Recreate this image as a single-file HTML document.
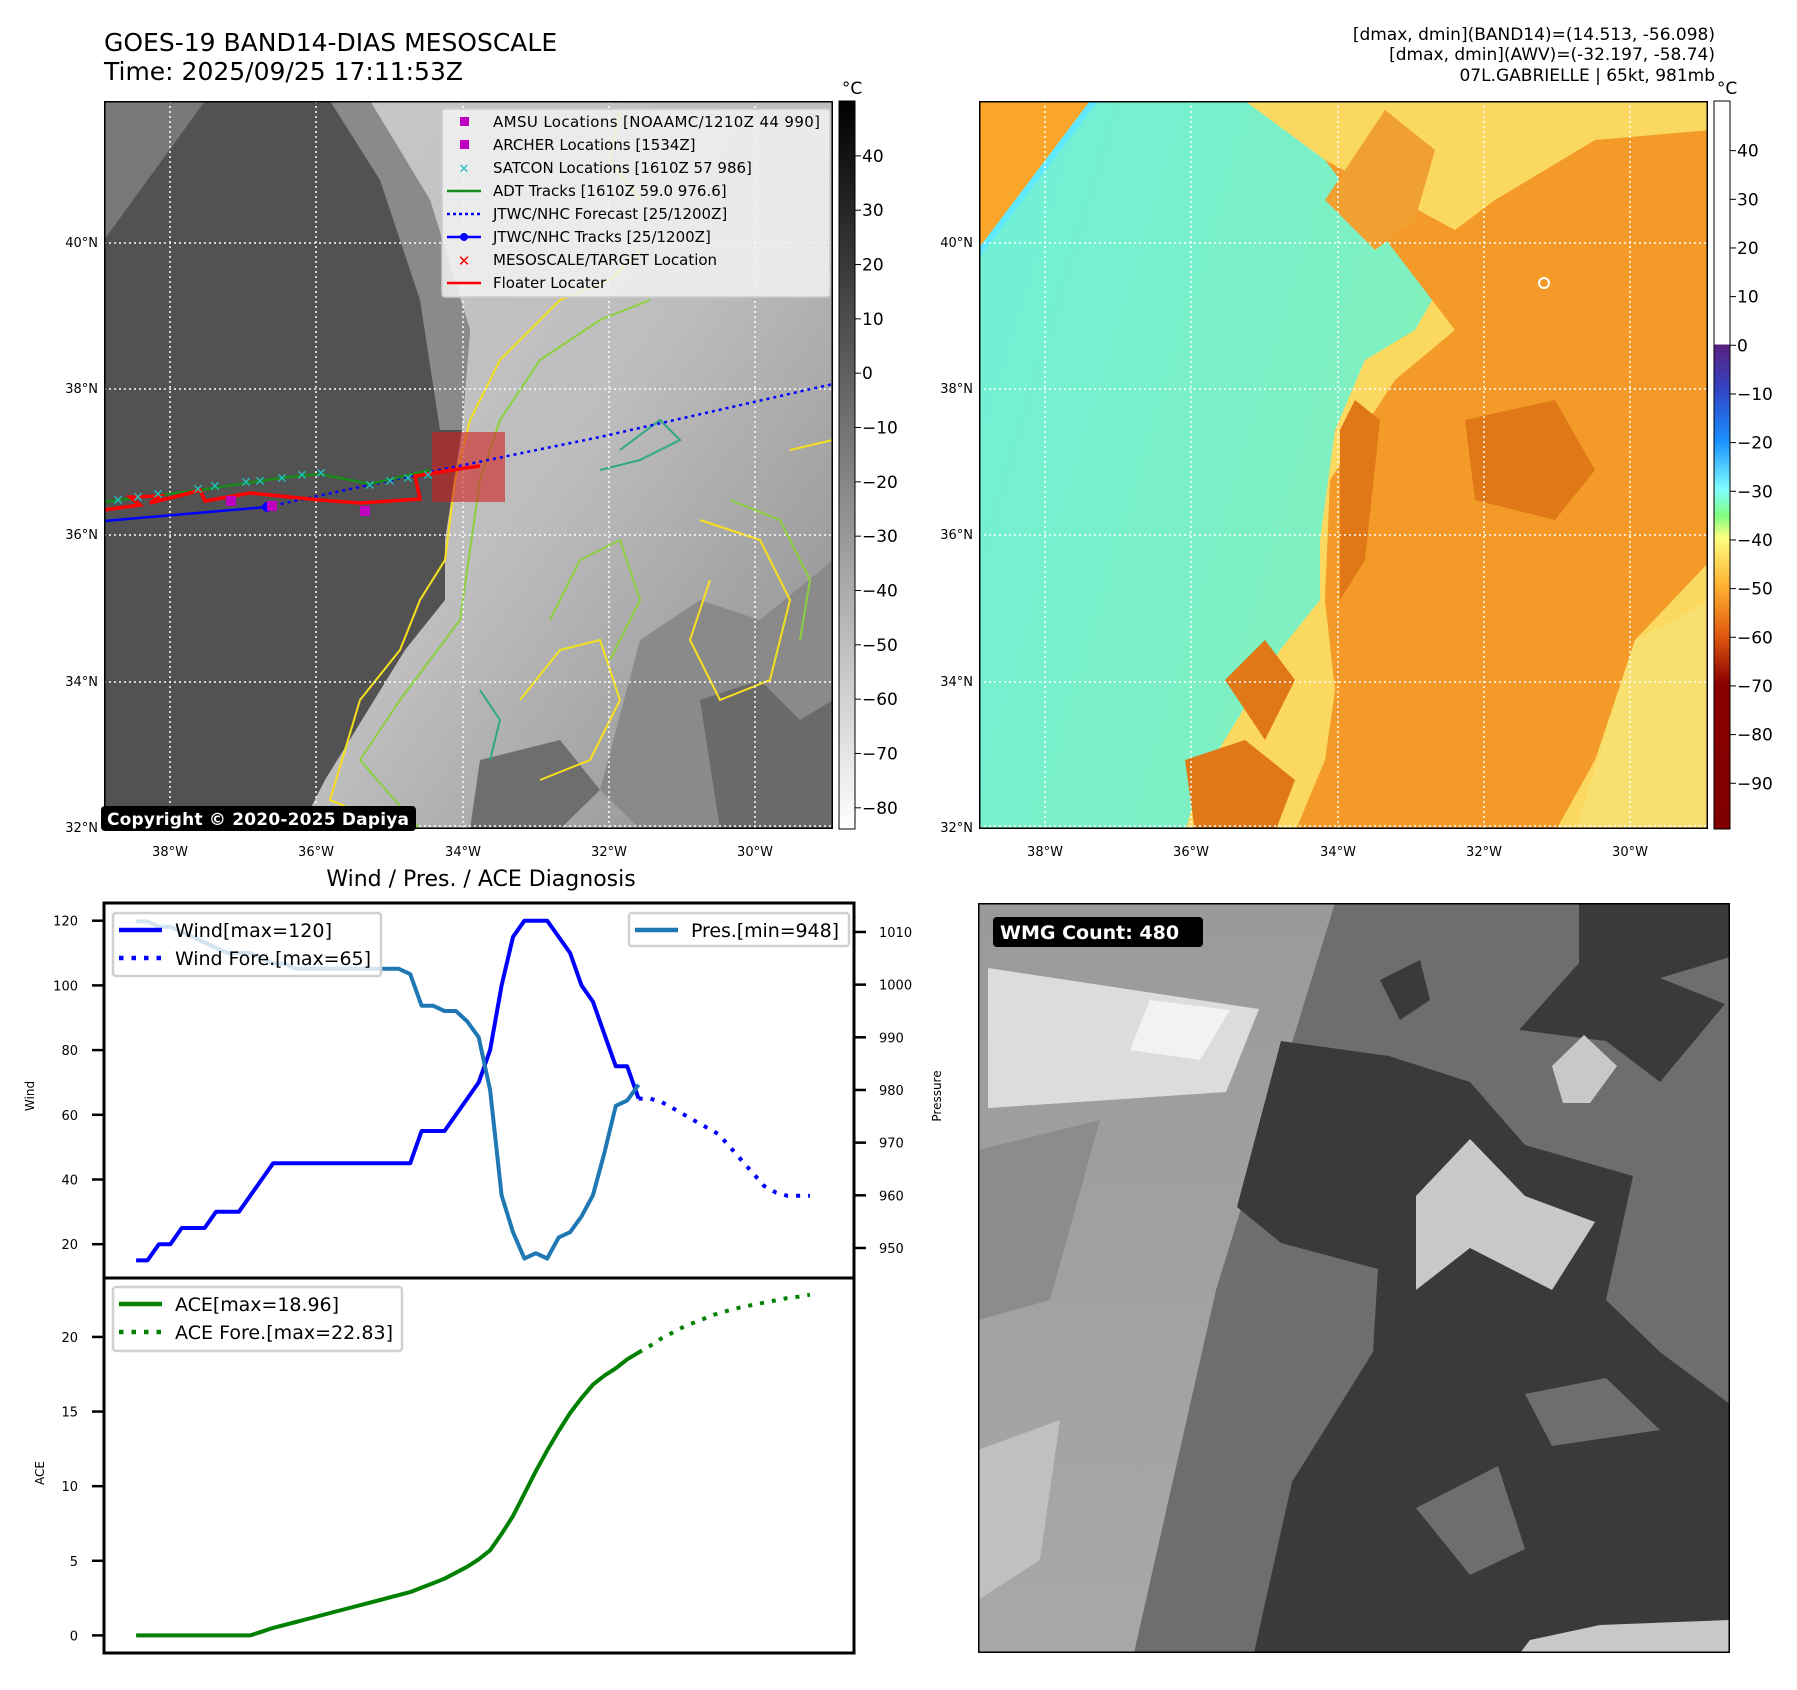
<!DOCTYPE html>
<html><head><meta charset="utf-8"><style>
html,body{margin:0;padding:0;background:#fff;}
svg{display:block;font-family:"DejaVu Sans","Liberation Sans",sans-serif;}
</style></head><body>
<svg id="root" width="1797" height="1690" viewBox="0 0 1797 1690" xmlns="http://www.w3.org/2000/svg">
<defs>
<linearGradient id="cb1" x1="0" y1="0" x2="0" y2="1"><stop offset="0" stop-color="#000"/><stop offset="1" stop-color="#fff"/></linearGradient>
<linearGradient id="cb2" x1="0" y1="0" x2="0" y2="1">
<stop offset="0" stop-color="#fff"/><stop offset="0.334" stop-color="#fff"/><stop offset="0.335" stop-color="#5a1f80"/>
<stop offset="0.40" stop-color="#3048c8"/><stop offset="0.467" stop-color="#1a90ff"/><stop offset="0.534" stop-color="#80ffff"/>
<stop offset="0.57" stop-color="#80ff80"/><stop offset="0.60" stop-color="#ffff80"/><stop offset="0.667" stop-color="#ffb030"/>
<stop offset="0.734" stop-color="#e05a10"/><stop offset="0.80" stop-color="#8a0000"/><stop offset="1" stop-color="#800000"/></linearGradient>
<linearGradient id="cloud1" x1="0" y1="0" x2="1" y2="1"><stop offset="0" stop-color="#c8c8c8"/><stop offset="0.5" stop-color="#bdbdbd"/><stop offset="1" stop-color="#8a8a8a"/></linearGradient>
<linearGradient id="clr2" x1="0" y1="0" x2="1" y2="0.3"><stop offset="0" stop-color="#70f0d8"/><stop offset="0.6" stop-color="#7ff0c0"/><stop offset="1" stop-color="#88f890"/></linearGradient>
<linearGradient id="band" x1="0" y1="0" x2="0" y2="1"><stop offset="0" stop-color="#9a9a9a"/><stop offset="1" stop-color="#a8a8a8"/></linearGradient>
<clipPath id="c1"><rect x="104" y="101" width="729" height="728"/></clipPath>
<clipPath id="c2"><rect x="979" y="101" width="729" height="728"/></clipPath>
<clipPath id="c3"><rect x="978" y="903" width="752" height="750"/></clipPath>
</defs>

<text x="104" y="51" font-size="25">GOES-19 BAND14-DIAS MESOSCALE</text>
<text x="104" y="80" font-size="25">Time: 2025/09/25 17:11:53Z</text>
<g font-size="17" text-anchor="end">
<text x="1715" y="40">[dmax, dmin](BAND14)=(14.513, -56.098)</text>
<text x="1715" y="60">[dmax, dmin](AWV)=(-32.197, -58.74)</text>
<text x="1715" y="81">07L.GABRIELLE | 65kt, 981mb</text>
</g>

<!-- MAP 1 -->
<g clip-path="url(#c1)">
<rect x="104" y="101" width="729" height="728" fill="#525252"/>
<polygon points="104,101 205,101 104,240" fill="#787878"/>
<polygon points="370,101 833,101 833,829 300,829 325,780 405,650 445,600 445,540 462,430 470,330 430,200" fill="url(#cloud1)"/>
<polygon points="330,101 370,101 430,200 470,330 462,430 440,430 420,300 380,180" fill="#8a8a8a"/>
<polygon points="640,640 700,600 760,620 833,560 833,829 640,829 600,790" fill="#8a8a8a"/>
<polygon points="700,700 760,680 800,720 833,700 833,829 720,829" fill="#6a6a6a"/>
<polygon points="480,760 560,740 600,790 560,829 470,829" fill="#6e6e6e"/>
<g fill="none" stroke-width="2">
<polyline stroke="#f5e020" points="400,829 330,800 360,700 400,650 420,600 445,560 455,480 470,420 500,360 560,300 610,280 640,250"/>
<polyline stroke="#f5e020" points="700,520 760,540 790,600 770,680 720,700 690,640 710,580"/>
<polyline stroke="#f5e020" points="520,700 560,650 600,640 620,700 590,760 540,780"/>
<polyline stroke="#f5e020" points="790,450 833,440"/>
<polyline stroke="#f5e020" points="620,110 610,160 640,200"/>
<polyline stroke="#8ad040" points="420,829 360,760 400,700 430,660 460,620 470,550 480,480 500,420 540,360 600,320 650,300"/>
<polyline stroke="#8ad040" points="550,620 580,560 620,540 640,600 610,660"/>
<polyline stroke="#8ad040" points="730,500 780,520 810,580 800,640"/>
<polyline stroke="#30a880" points="600,470 640,460 680,440 660,420 620,450"/>
<polyline stroke="#30a880" points="490,760 500,720 480,690"/>
</g>
<g stroke="#fff" stroke-width="1.5" stroke-dasharray="2,3">
<line x1="170" y1="101" x2="170" y2="829"/><line x1="316" y1="101" x2="316" y2="829"/><line x1="463" y1="101" x2="463" y2="829"/><line x1="609" y1="101" x2="609" y2="829"/><line x1="755" y1="101" x2="755" y2="829"/>
<line x1="104" y1="243" x2="833" y2="243"/><line x1="104" y1="389" x2="833" y2="389"/><line x1="104" y1="535" x2="833" y2="535"/><line x1="104" y1="682" x2="833" y2="682"/><line x1="104" y1="826" x2="833" y2="826"/>
</g>
<rect x="432" y="432" width="73" height="70" fill="#d02020" fill-opacity="0.6"/>
<polyline points="267,507 420,474 600,437 833,384" fill="none" stroke="#0000ff" stroke-width="2.5" stroke-dasharray="3,4"/>
<polyline points="104,521 267,507" fill="none" stroke="#0000ff" stroke-width="2.5"/>
<circle cx="267" cy="507" r="5" fill="#0000ff"/>
<polyline points="104,502 200,490 280,478 320,474 370,484 430,470" fill="none" stroke="#1a8a1a" stroke-width="2.5"/>
<polyline points="104,510 140,505 130,497 160,496 150,503 190,493 200,490 205,501 250,493 280,496 320,500 360,503 420,499 415,476 465,468 480,466" fill="none" stroke="#ff0000" stroke-width="3.5"/>
<g fill="#20c0c0" font-size="14" font-weight="bold" text-anchor="middle">
<text x="118" y="505">✕</text><text x="138" y="502">✕</text><text x="158" y="499">✕</text><text x="198" y="494">✕</text><text x="215" y="491">✕</text><text x="246" y="487">✕</text><text x="260" y="486">✕</text><text x="282" y="483">✕</text><text x="302" y="480">✕</text><text x="321" y="478">✕</text><text x="370" y="490">✕</text><text x="390" y="486">✕</text><text x="408" y="483">✕</text><text x="428" y="480">✕</text>
</g>
<g fill="#c000c0">
<rect x="226" y="496" width="10" height="10"/><rect x="267" y="501" width="10" height="10"/><rect x="360" y="506" width="10" height="10"/></g>
<rect x="104" y="101" width="729" height="728" fill="none" stroke="#000" stroke-width="3"/>
</g>
<g font-size="15">
<rect x="442" y="109" width="388" height="188" fill="#f2f2f2" fill-opacity="0.85" stroke="#ccc" stroke-width="1.5" rx="3"/>
<rect x="460" y="117" width="9" height="9" fill="#c000c0"/><text x="493" y="127" textLength="327">AMSU Locations [NOAAMC/1210Z 44 990]</text>
<rect x="460" y="140" width="9" height="9" fill="#c000c0"/><text x="493" y="150">ARCHER Locations [1534Z]</text>
<text x="464" y="173" fill="#20c0c0" font-weight="bold" text-anchor="middle" font-size="13">✕</text><text x="493" y="173">SATCON Locations [1610Z 57 986]</text>
<line x1="447" y1="191" x2="481" y2="191" stroke="#1a8a1a" stroke-width="2.5"/><text x="493" y="196">ADT Tracks [1610Z 59.0 976.6]</text>
<line x1="447" y1="214" x2="481" y2="214" stroke="#0000ff" stroke-width="2.5" stroke-dasharray="3,3"/><text x="493" y="219">JTWC/NHC Forecast [25/1200Z]</text>
<line x1="447" y1="237" x2="481" y2="237" stroke="#0000ff" stroke-width="2.5"/><circle cx="464" cy="237" r="4" fill="#0000ff"/><text x="493" y="242">JTWC/NHC Tracks [25/1200Z]</text>
<text x="464" y="266" fill="#ff0000" font-weight="bold" text-anchor="middle" font-size="15">✕</text><text x="493" y="265">MESOSCALE/TARGET Location</text>
<line x1="447" y1="283" x2="481" y2="283" stroke="#ff0000" stroke-width="2.5"/><text x="493" y="288">Floater Locater</text>
</g>
<g><rect x="101" y="806" width="315" height="25" rx="4" fill="#000"/>
<text x="107" y="825" fill="#fff" font-size="17" font-weight="bold" textLength="302">Copyright © 2020-2025 Dapiya</text></g>
<g font-size="13" text-anchor="end">
<text x="98" y="247">40°N</text><text x="98" y="393">38°N</text><text x="98" y="539">36°N</text><text x="98" y="686">34°N</text><text x="98" y="832">32°N</text></g>
<g font-size="13" text-anchor="middle">
<text x="170" y="856">38°W</text><text x="316" y="856">36°W</text><text x="463" y="856">34°W</text><text x="609" y="856">32°W</text><text x="755" y="856">30°W</text></g>
<g>
<rect x="839" y="101" width="16" height="728" fill="url(#cb1)" stroke="#000" stroke-width="1"/>
<text x="852" y="94" font-size="17" text-anchor="middle">°C</text>
<g font-size="17" id="cb1ticks"></g></g>

<!-- MAP 2 -->
<g clip-path="url(#c2)">
<g transform="translate(-5,0)">
<rect x="984" y="101" width="732" height="731" fill="url(#clr2)"/>
<polygon points="984,101 1095,101 984,248" fill="#f9a62a"/>
<polygon points="1095,101 1103,101 984,258 984,248" fill="#60e8ff"/>
<polygon points="1250,101 1716,101 1716,832 1190,832 1205,780 1285,650 1325,600 1325,540 1340,430 1370,360 1420,330 1460,260 1390,200 1330,160" fill="#fbd860"/>
<polygon points="1330,160 1460,230 1500,200 1600,140 1716,130 1716,560 1640,640 1600,760 1560,832 1300,832 1330,760 1340,690 1330,600 1335,480 1400,380 1460,330" fill="#f39a28"/>
<polygon points="1330,200 1380,250 1420,220 1440,150 1390,110" fill="#f0a030"/>
<polygon points="1470,420 1560,400 1600,470 1560,520 1480,500" fill="#e07818"/>
<polygon points="1345,430 1360,400 1385,420 1370,560 1345,600" fill="#e07818"/>
<polygon points="1190,760 1250,740 1300,780 1280,832 1200,832" fill="#e07818"/>
<polygon points="1230,680 1270,640 1300,680 1270,740" fill="#e07818"/>
<polygon points="1640,640 1716,600 1716,832 1580,832" fill="#f8e070"/>
<polygon points="1630,300 1716,250 1716,150 1650,170" fill="#f39a28"/>
</g>
<g stroke="#fff" stroke-width="1.5" stroke-dasharray="2,3">
<line x1="1045" y1="101" x2="1045" y2="829"/><line x1="1191" y1="101" x2="1191" y2="829"/><line x1="1338" y1="101" x2="1338" y2="829"/><line x1="1484" y1="101" x2="1484" y2="829"/><line x1="1630" y1="101" x2="1630" y2="829"/>
<line x1="979" y1="243" x2="1708" y2="243"/><line x1="979" y1="389" x2="1708" y2="389"/><line x1="979" y1="535" x2="1708" y2="535"/><line x1="979" y1="682" x2="1708" y2="682"/><line x1="979" y1="826" x2="1708" y2="826"/>
</g>
<ellipse cx="1544" cy="283" rx="5" ry="5" fill="none" stroke="#fff" stroke-width="2"/>
<rect x="979" y="101" width="729" height="728" fill="none" stroke="#000" stroke-width="3"/>
</g>
<g font-size="13" text-anchor="end">
<text x="973" y="247">40°N</text><text x="973" y="393">38°N</text><text x="973" y="539">36°N</text><text x="973" y="686">34°N</text><text x="973" y="832">32°N</text></g>
<g font-size="13" text-anchor="middle">
<text x="1045" y="856">38°W</text><text x="1191" y="856">36°W</text><text x="1338" y="856">34°W</text><text x="1484" y="856">32°W</text><text x="1630" y="856">30°W</text></g>
<g>
<rect x="1714" y="101" width="16" height="728" fill="url(#cb2)" stroke="#000" stroke-width="1"/>
<text x="1727" y="94" font-size="17" text-anchor="middle">°C</text>
<g font-size="17" id="cb2ticks"></g></g>

<!-- WMG -->
<g clip-path="url(#c3)">
<rect x="978" y="903" width="752" height="750" fill="#6e6e6e"/>
<polygon points="978,903 1335,903 1216,1290 1134,1653 978,1653" fill="url(#band)"/>
<polygon points="988,968 1259,1009 1226,1092 1064,1103 988,1108" fill="#dcdcdc"/>
<polygon points="1150,1000 1230,1010 1200,1060 1130,1050" fill="#f2f2f2"/>
<polygon points="978,1150 1100,1120 1050,1300 978,1320" fill="#8c8c8c"/>
<polygon points="978,1450 1060,1420 1040,1560 978,1600" fill="#c0c0c0"/>
<polygon points="1281,1041 1389,1056 1470,1082 1525,1145 1633,1176 1606,1300 1660,1352 1730,1404 1730,1653 1443,1659 1254,1653 1292,1482 1373,1352 1378,1269 1281,1243 1237,1207" fill="#3a3a3a"/>
<polygon points="1579,903 1730,903 1730,957 1660,978 1725,1004 1660,1082 1606,1041 1519,1030 1579,963" fill="#3a3a3a"/>
<polygon points="1380,980 1420,960 1430,1000 1400,1020" fill="#3a3a3a"/>
<polygon points="1552,1066 1584,1035 1617,1066 1590,1103 1563,1103" fill="#c8c8c8"/>
<polygon points="1416,1196 1470,1139 1525,1196 1595,1222 1552,1290 1470,1248 1416,1290" fill="#c8c8c8"/>
<polygon points="1416,1508 1498,1466 1525,1549 1470,1575" fill="#6e6e6e"/>
<polygon points="1525,1394 1606,1378 1660,1430 1552,1446" fill="#6e6e6e"/>
<polygon points="1630,1300 1730,1260 1730,1404 1660,1352" fill="#6e6e6e"/>
<polygon points="1530,1640 1600,1625 1730,1620 1730,1653 1520,1653" fill="#c8c8c8"/>
<rect x="978" y="903" width="752" height="750" fill="none" stroke="#000" stroke-width="3"/>
</g>
<g><rect x="993" y="917" width="210" height="30" rx="4" fill="#000"/>
<text x="1000" y="939" fill="#fff" font-size="19" font-weight="bold">WMG Count: 480</text></g>

<!-- CHARTS -->
<text x="481" y="886" font-size="22" text-anchor="middle">Wind / Pres. / ACE Diagnosis</text>
<g id="charts"></g>
</svg>
<script>
// --- data ---
const windObs = [15,15,20,20,25,25,25,30,30,30,35,40,45,45,45,45,45,45,45,45,45,45,45,45,45,55,55,55,60,65,70,80,100,115,120,120,120,115,110,100,95,85,75,75,65];
const windFore = [65,65,64,62,60,58,56,54,50,46,42,38,36,35,35,35];
const presObs = [1012,1012,1011,1011,1010,1009,1008,1007,1006,1006,1006,1005,1004,1004,1003,1003,1003,1003,1003,1003,1003,1003,1003,1003,1002,996,996,995,995,993,990,980,960,953,948,949,948,952,953,956,960,968,977,978,981];
const aceObs = [0,0,0,0,0,0,0,0,0,0,0,0.25,0.5,0.7,0.9,1.1,1.3,1.5,1.7,1.9,2.1,2.3,2.5,2.7,2.9,3.2,3.5,3.8,4.2,4.6,5.1,5.7,6.8,8.0,9.5,11.0,12.4,13.7,14.9,15.9,16.8,17.4,17.9,18.5,18.96];
const aceFore = [18.96,19.4,19.9,20.3,20.7,21.0,21.3,21.6,21.8,22.0,22.15,22.3,22.45,22.6,22.7,22.83];
const windTicks = [20,40,60,80,100,120];
const presTicks = [950,960,970,980,990,1000,1010];
const aceTicks = [0,5,10,15,20];
const cb1Ticks = [40,30,20,10,0,-10,-20,-30,-40,-50,-60,-70,-80];
const cb2Ticks = [40,30,20,10,0,-10,-20,-30,-40,-50,-60,-70,-80,-90];

const NS='http://www.w3.org/2000/svg';
function mk(tag, attrs, parent){const e=document.createElementNS(NS,tag);for(const k in attrs)e.setAttribute(k,attrs[k]);parent.appendChild(e);return e;}
const L=104,R=854,T1=903,B1=1278,T2=1278,B2=1653;
const xS=i=>L+(i-(-2.81))/(62.86+2.81)*(R-L);
const yW=v=>B1-(v-9.55)/(125.47-9.55)*(B1-T1);
const yP=v=>B1-(v-944.3)/(1015.5-944.3)*(B1-T1);
const yA=v=>B2-(v+1.18)/(23.95+1.18)*(B2-T2);
const g=document.getElementById('charts');
function line(vals,off,xf,yf,color,dash,name){
  const pts=vals.map((v,i)=>xf(i+off).toFixed(1)+','+yf(v).toFixed(1)).join(' ');
  const p=mk('polyline',{points:pts,fill:'none',stroke:color,'stroke-width':4,'stroke-linejoin':'round'},g);
  if(dash)p.setAttribute('stroke-dasharray',dash);
  
  
}
mk('rect',{x:L,y:T1,width:R-L,height:B1-T1,fill:'#fff'},g);
line(windObs,0,xS,yW,'#0000ff',null,'wind-line');
line(windFore,windObs.length-1,xS,yW,'#0000ff','4,8','wind-forecast-line');
line(presObs,0,xS,yP,'#1f77b4',null,'pressure-line');
line(aceObs,0,xS,yA,'#008000',null,'ace-line');
line(aceFore,aceObs.length-1,xS,yA,'#008000','4,8','ace-forecast-line');
mk('rect',{x:L,y:T1,width:R-L,height:B2-T1,fill:'none',stroke:'#000','stroke-width':3},g);
mk('line',{x1:L,y1:B1,x2:R,y2:B1,stroke:'#000','stroke-width':3},g);
windTicks.forEach(v=>{const y=yW(v);mk('line',{x1:L-12,y1:y,x2:L,y2:y,stroke:'#000','stroke-width':2.5},g);
  const t=mk('text',{x:L-26,y:y+5,'font-size':13,'text-anchor':'end'},g);t.textContent=v;
  
  });
presTicks.forEach(v=>{const y=yP(v);mk('line',{x1:R,y1:y,x2:R+12,y2:y,stroke:'#000','stroke-width':2.5},g);
  const t=mk('text',{x:R+25,y:y+5,'font-size':13},g);t.textContent=v;
  
  });
aceTicks.forEach(v=>{const y=yA(v);mk('line',{x1:L-12,y1:y,x2:L,y2:y,stroke:'#000','stroke-width':2.5},g);
  const t=mk('text',{x:L-26,y:y+5,'font-size':13,'text-anchor':'end'},g);t.textContent=v;
  
  });
function vlabel(txt,x,y,name){const t=mk('text',{x:x,y:y,'font-size':12,'text-anchor':'middle',transform:'rotate(-90 '+x+' '+y+')'},g);t.textContent=txt;
  
  }
vlabel('Wind',34,1096,'wind-axis-title');vlabel('Pressure',941,1096,'pressure-axis-title');vlabel('ACE',44,1473,'ace-axis-title');
function legend(x,y,w,h,items,name){
  const lg=mk('g',{},g);
  
  
  mk('rect',{x:x,y:y,width:w,height:h,fill:'#fff','fill-opacity':0.8,stroke:'#d0d0d0','stroke-width':2.5,rx:3},lg);
  items.forEach((it,i)=>{const yy=y+17+i*28;
    const l=mk('line',{x1:x+6,y1:yy,x2:x+49,y2:yy,stroke:it[1],'stroke-width':4.5},lg);if(it[2])l.setAttribute('stroke-dasharray','4.5,8');
    const t=mk('text',{x:x+62,y:yy+7,'font-size':19,textLength:it[3]},lg);t.textContent=it[0];});
}
legend(113,913,268,63,[['Wind[max=120]','#0000ff',0,157],['Wind Fore.[max=65]','#0000ff',1,196]],'wind-legend');
legend(629,913,220,33,[['Pres.[min=948]','#1f77b4',0,148]],'pressure-legend');
legend(113,1287,289,64,[['ACE[max=18.96]','#008000',0,164],['ACE Fore.[max=22.83]','#008000',1,218]],'ace-legend');
// colorbars
const cbT1=document.getElementById('cb1ticks');
cb1Ticks.forEach(v=>{const y=101+(50.1-v)/(50.1+83.9)*728;mk('line',{x1:855,y1:y,x2:861,y2:y,stroke:'#000'},cbT1);
  const t=mk('text',{x:862,y:y+6},cbT1);t.textContent=String(v).replace('-','−');
  
  });
const cbT2=document.getElementById('cb2ticks');
cb2Ticks.forEach(v=>{const y=101+(50.2-v)/(50.2+99.4)*728;mk('line',{x1:1730,y1:y,x2:1736,y2:y,stroke:'#000'},cbT2);
  const t=mk('text',{x:1737,y:y+6},cbT2);t.textContent=String(v).replace('-','−');
  
  });
</script>
</body></html>
